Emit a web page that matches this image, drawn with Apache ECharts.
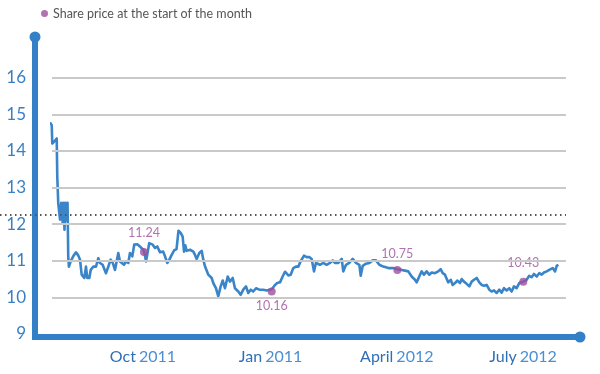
<!DOCTYPE html>
<html><head><meta charset="utf-8">
<script src="https://cdn.jsdelivr.net/npm/echarts@6/dist/echarts.min.js"></script>
<style>html,body{margin:0;padding:0;background:#fff}#c{width:600px;height:374px}</style>
</head><body><div id="c"></div>
<script>
// [day since 2011-07-01, share price]
const dailyPrices = [
[24.9,14.78],[26.2,14.70],[26.6,14.20],[28.6,14.28],[29.8,14.34],[30.2,13.30],[30.9,12.57],[32.2,12.12],
[33.1,12.58],[34.1,12.03],[34.8,12.58],[35.4,11.85],[36.1,12.58],[36.8,12.10],[37.6,12.58],[38.1,11.12],
[38.6,10.84],[39.8,10.98],[40.6,10.94],[41.7,11.12],[43.7,11.23],[45.4,11.14],[46.6,11.03],[47.8,10.62],
[49.7,10.53],[50.9,10.84],[51.8,10.53],[53.3,10.53],[54.3,10.75],[56.2,10.84],[58.1,10.84],[59.8,11.07],
[61.0,10.94],[62.9,10.89],[65.3,10.66],[67.0,10.84],[68.7,11.03],[70.2,10.94],[71.8,10.75],[74.2,11.21],
[75.4,10.98],[76.6,11.03],[78.3,10.89],[79.7,10.98],[81.4,10.94],[82.6,11.21],[84.3,11.12],[85.7,11.44],
[87.9,11.45],[89.8,11.39],[91.1,11.44],[92.7,11.28],[94.2,10.98],[95.1,10.94],[96.5,11.48],[99.0,11.44],
[100.7,11.35],[102.3,11.39],[104.3,11.23],[106.6,11.25],[107.9,11.12],[109.5,10.94],[111.0,11.03],[112.7,11.16],
[114.4,11.28],[116.2,11.32],[117.6,11.82],[119.2,11.76],[120.6,11.66],[121.6,11.25],[122.5,11.42],[123.5,11.27],
[125.9,11.30],[128.3,11.25],[129.5,11.16],[130.7,11.05],[132.6,11.21],[134.3,11.27],[135.5,11.03],[136.7,10.85],
[139.1,10.62],[141.5,10.53],[142.7,10.39],[144.6,10.25],[146.3,10.03],[148.0,10.30],[149.5,10.46],[151.1,10.25],
[153.1,10.57],[154.7,10.43],[156.7,10.53],[158.3,10.25],[160.7,10.16],[162.4,10.07],[164.3,10.21],[166.3,10.30],
[167.9,10.12],[169.7,10.21],[171.5,10.16],[173.5,10.25],[175.9,10.21],[178.7,10.21],[181.2,10.19],[184.8,10.22],
[187.2,10.34],[188.8,10.39],[190.8,10.41],[192.7,10.57],[194.4,10.70],[196.8,10.60],[198.5,10.62],[200.4,10.80],
[202.3,10.84],[204.0,10.84],[205.6,10.98],[208.1,11.14],[210.0,11.10],[211.9,11.10],[213.6,11.05],[215.3,10.71],
[216.7,10.94],[219.6,10.89],[222.0,10.94],[224.4,10.89],[226.8,10.94],[228.8,11.01],[230.4,10.94],[232.8,10.94],
[235.3,11.05],[236.4,10.71],[238.4,10.89],[240.7,10.94],[243.2,11.05],[245.6,10.94],[248.0,10.89],[249.0,10.59],
[250.4,10.86],[252.8,10.92],[255.2,10.94],[257.6,11.01],[260.0,11.01],[262.4,10.89],[265.3,10.84],[268.9,10.80],
[272.5,10.80],[275.4,10.77],[278.5,10.75],[280.9,10.73],[283.3,10.71],[285.7,10.57],[288.1,10.48],[289.3,10.41],
[291.2,10.57],[292.9,10.71],[294.6,10.62],[296.5,10.71],[298.4,10.62],[300.2,10.68],[302.5,10.66],[304.9,10.71],
[306.6,10.77],[308.1,10.66],[309.7,10.62],[312.1,10.41],[313.9,10.48],[315.3,10.34],[317.0,10.39],[318.6,10.46],
[320.6,10.39],[321.8,10.50],[323.4,10.43],[325.4,10.37],[327.3,10.30],[329.0,10.43],[330.7,10.48],[332.6,10.53],
[334.5,10.41],[336.2,10.34],[337.9,10.32],[339.8,10.34],[341.7,10.21],[343.4,10.16],[345.1,10.19],[347.0,10.12],
[348.9,10.21],[350.6,10.13],[352.3,10.25],[354.2,10.19],[356.1,10.25],[357.8,10.16],[359.5,10.30],[361.4,10.25],
[363.3,10.39],[366.2,10.43],[368.6,10.48],[370.5,10.59],[372.2,10.55],[373.9,10.64],[375.9,10.57],[377.7,10.66],
[379.5,10.62],[381.1,10.68],[383.1,10.71],[384.9,10.75],[387.4,10.80],[389.1,10.71],[390.3,10.86],[391.5,10.89]
];
const monthStartDays = [92.7, 184.8, 275.4, 366.2];
const monthStartPrices = [11.24, 10.16, 10.75, 10.43];
const xTickDays = [92, 184, 275, 366];
const xTickMonths = ['Oct', 'Jan', 'April', 'July'];
const xTickYears = ['2011', '2011', '2012', '2012'];
const yTicks = [9, 10, 11, 12, 13, 14, 15, 16];
const gridValues = [10, 11, 12, 13, 14, 15, 16];
const referenceLevel = 12.25;
const legendLabel = 'Share price at the start of the month';

const AXIS = '#3380c6', LINE = '#3a85c9', PURPLE = '#9c4f9c', FONT = 'Lato';
const labelPlacement = [['top', 8], ['bottom', 4], ['top', 5], ['top', 8]];

const chart = echarts.init(document.getElementById('c'), null, {renderer: 'canvas'});
chart.setOption({
  animation: false,
  textStyle: {fontFamily: FONT},
  legend: {
    left: 36, top: 2, itemWidth: 7, itemHeight: 7, itemGap: 5,
    data: [{name: legendLabel, icon: 'circle'}],
    textStyle: {color: '#555', fontSize: 12.5, fontFamily: FONT}
  },
  grid: [
    {left: 35, right: 20, top: 37, bottom: 37},
    {left: 52, right: 34, top: 41, bottom: 40},
    {left: 0, right: 34, top: 41, bottom: 40}
  ],
  xAxis: [
    {gridIndex: 0, type: 'value', min: 0, max: 1,
     axisLine: {show: true, onZero: false, symbol: ['none', 'circle'], symbolSize: [11, 11],
                lineStyle: {color: AXIS, width: 6, cap: 'square'}},
     axisTick: {show: false}, axisLabel: {show: false}, splitLine: {show: false}},
    {gridIndex: 1, type: 'value', min: 26.4, max: 397,
     axisLine: {show: false}, axisTick: {show: false}, splitLine: {show: false},
     axisLabel: {
       customValues: xTickDays, margin: 15,
       formatter: v => { const i = xTickDays.indexOf(v); return '{m|' + xTickMonths[i] + '} {y|' + xTickYears[i] + '}'; },
       rich: {
         m: {color: '#2f6fb6', fontSize: 16, fontFamily: FONT},
         y: {color: '#4b8fd2', fontSize: 16, fontFamily: FONT}
       }
     }},
    {gridIndex: 2, type: 'value', min: 0, max: 1, show: false}
  ],
  yAxis: [
    {gridIndex: 0, type: 'value', min: 0, max: 1,
     axisLine: {show: true, onZero: false, symbol: ['none', 'circle'], symbolSize: [11, 11],
                lineStyle: {color: AXIS, width: 6, cap: 'square'}},
     axisTick: {show: false}, axisLabel: {show: false}, splitLine: {show: false}},
    {gridIndex: 1, type: 'value', min: 9, max: 17, interval: 1,
     axisLine: {show: false}, axisTick: {show: false}, splitLine: {show: false},
     axisLabel: {customValues: yTicks, margin: 26, color: '#3a7fc4', fontSize: 17, fontFamily: FONT}},
    {gridIndex: 2, type: 'value', min: 9, max: 17, show: false}
  ],
  series: [
    {type: 'line', xAxisIndex: 1, yAxisIndex: 1, data: [], z: 1, silent: true,
     markLine: {symbol: 'none', silent: true, label: {show: false},
                lineStyle: {color: '#c9c9c9', width: 2, type: 'solid'},
                data: gridValues.map(v => ({yAxis: v}))}},
    {type: 'line', xAxisIndex: 2, yAxisIndex: 2, data: [], z: 2, silent: true,
     markLine: {symbol: 'none', silent: true, label: {show: false},
                lineStyle: {color: '#555', width: 2, type: [1.5, 3.5]},
                data: [{yAxis: referenceLevel}]}},
    {type: 'line', name: 'Share price', xAxisIndex: 1, yAxisIndex: 1, data: dailyPrices,
     showSymbol: false, symbol: 'none', clip: false, z: 3,
     lineStyle: {color: LINE, width: 2.6, join: 'round'}},
    {type: 'scatter', name: legendLabel, xAxisIndex: 1, yAxisIndex: 1, z: 4,
     symbolSize: 8, itemStyle: {color: PURPLE},
     data: monthStartDays.map((d, i) => ({
       value: [d, monthStartPrices[i]],
       label: {position: labelPlacement[i][0], distance: labelPlacement[i][1]}
     })),
     label: {show: true, color: PURPLE, fontSize: 12.5, fontFamily: FONT,
             formatter: p => p.value[1].toFixed(2)}}
  ]
});
</script></body></html>
